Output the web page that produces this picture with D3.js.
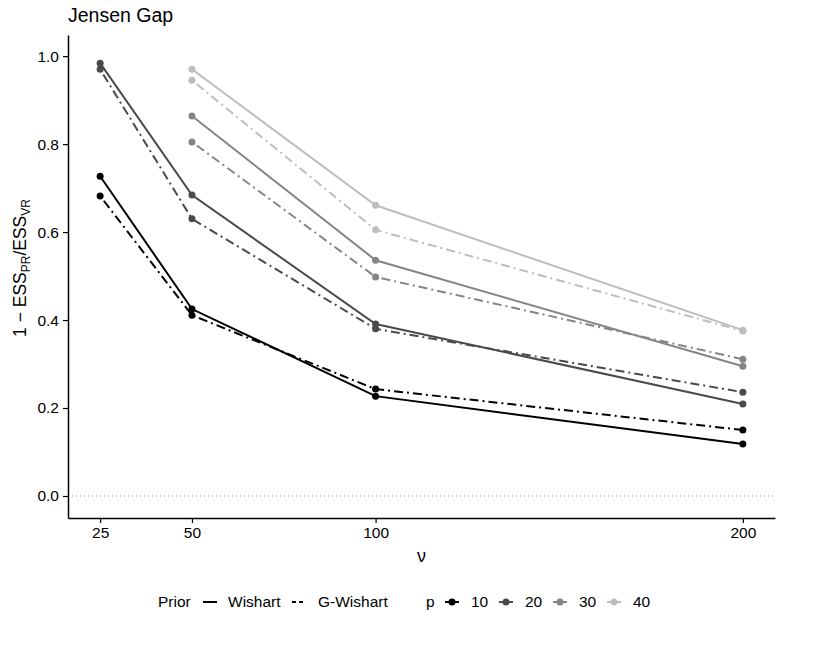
<!DOCTYPE html>
<html>
<head>
<meta charset="utf-8">
<script src="https://cdn.jsdelivr.net/npm/d3@7"></script>
<style>
  body { margin: 0; background: #fff; }
  svg text { font-family: "Liberation Sans", Arial, Helvetica, sans-serif; }
</style>
</head>
<body>
<svg id="chart"></svg>
<script>
// values
const nu = [25, 50, 100, 200]
const pLevels = [10, 20, 30, 40]
const priors = ['Wishart', 'G-Wishart']

const p10Wishart  = [0.727, 0.425, 0.227, 0.118]
const p10GWishart = [0.682, 0.411, 0.243, 0.150]
const p20Wishart  = [0.984, 0.684, 0.391, 0.209]
const p20GWishart = [0.970, 0.630, 0.380, 0.236]
const p30Wishart  = [null, 0.864, 0.536, 0.295]
const p30GWishart = [null, 0.805, 0.498, 0.311]
const p40Wishart  = [null, 0.970, 0.661, 0.377]
const p40GWishart = [null, 0.945, 0.605, 0.375]

const yTicks = [0, 0.2, 0.4, 0.6, 0.8, 1.0]
const xTicks = [25, 50, 100, 200]

let series = [
    { p: 10, prior: 'Wishart', values: p10Wishart },
    { p: 10, prior: 'G-Wishart', values: p10GWishart },
    { p: 20, prior: 'Wishart', values: p20Wishart },
    { p: 20, prior: 'G-Wishart', values: p20GWishart },
    { p: 30, prior: 'Wishart', values: p30Wishart },
    { p: 30, prior: 'G-Wishart', values: p30GWishart },
    { p: 40, prior: 'Wishart', values: p40Wishart },
    { p: 40, prior: 'G-Wishart', values: p40GWishart }
]

let svgWidth = 834
let svgHeight = 655
let margin = { top: 35, right: 59, bottom: 137, left: 68 }

let svg = d3.select('#chart')
    .attr('width', svgWidth)
    .attr('height', svgHeight)

let xScale = d3.scaleLinear()
    .domain([16.25, 208.75])
    .range([margin.left, svgWidth - margin.right])

let yScale = d3.scaleLinear()
    .domain([-0.05, 1.048])
    .range([svgHeight - margin.bottom, margin.top])

let colorScale = d3.scaleOrdinal()
    .domain(pLevels)
    .range(['#000000', '#4a4a4a', '#858585', '#bdbdbd'])

let dashScale = d3.scaleOrdinal()
    .domain(priors)
    .range(['none', '2,4,9,4'])

// dotted zero reference
svg.append('line')
    .attr('x1', xScale.range()[0])
    .attr('x2', xScale.range()[1])
    .attr('y1', yScale(0))
    .attr('y2', yScale(0))
    .attr('stroke', '#9a9a9a')
    .attr('stroke-width', 1)
    .attr('stroke-dasharray', '1,3')

// axes
let xAxis = svg.append('g')
    .attr('transform', 'translate(0,' + (svgHeight - margin.bottom) + ')')
    .call(d3.axisBottom(xScale).tickValues(xTicks).tickSize(5).tickPadding(4).tickSizeOuter(0))

let yAxis = svg.append('g')
    .attr('transform', 'translate(' + margin.left + ',0)')
    .call(d3.axisLeft(yScale).tickValues(yTicks).tickFormat(d3.format('.1f')).tickSize(5).tickPadding(4).tickSizeOuter(0))

;[xAxis, yAxis].forEach(ax => {
    ax.select('.domain').attr('stroke', '#000').attr('stroke-width', 1.5)
    ax.selectAll('.tick line').attr('stroke', '#000').attr('stroke-width', 1.2)
    ax.selectAll('.tick text')
        .attr('fill', '#000')
        .style('font-size', '15.5px')
})

// lines
let line = d3.line()
    .defined(d => d.y != null)
    .x(d => xScale(d.x))
    .y(d => yScale(d.y))

let groups = svg.selectAll('.series')
    .data(series)
    .enter()
    .append('g')
    .attr('class', 'series')

groups.append('path')
    .attr('d', d => line(nu.map((x, i) => ({ x: x, y: d.values[i] }))))
    .attr('fill', 'none')
    .attr('stroke', d => colorScale(d.p))
    .attr('stroke-width', 2)
    .attr('stroke-dasharray', d => dashScale(d.prior))

groups.selectAll('circle')
    .data(d => nu.map((x, i) => ({ x: x, y: d.values[i], p: d.p })).filter(e => e.y != null))
    .enter()
    .append('circle')
    .attr('cx', d => xScale(d.x))
    .attr('cy', d => yScale(d.y))
    .attr('r', 3.5)
    .attr('fill', d => colorScale(d.p))

// title and axis labels
svg.append('text')
    .attr('x', margin.left)
    .attr('y', 22)
    .style('font-size', '19.5px')
    .text('Jensen Gap')

svg.append('text')
    .attr('x', (xScale.range()[0] + xScale.range()[1]) / 2)
    .attr('y', 562)
    .attr('text-anchor', 'middle')
    .style('font-size', '18px')
    .text('ν')

let yLabel = svg.append('text')
    .attr('transform', 'translate(26,' + 268 + ') rotate(-90)')
    .attr('text-anchor', 'middle')
    .style('font-size', '17.5px')
yLabel.append('tspan').text('1 − ESS')
yLabel.append('tspan').attr('dy', 4).style('font-size', '12px').text('PR')
yLabel.append('tspan').attr('dy', -4).text('/ESS')
yLabel.append('tspan').attr('dy', 4).style('font-size', '12px').text('VR')

// legend
let legendY = 602
let legend = svg.append('g').style('font-size', '15.5px')

legend.append('text').attr('x', 158).attr('y', legendY + 5).text('Prior')

let priorKeys = [
    { prior: 'Wishart', keyX: 203, labelX: 228 },
    { prior: 'G-Wishart', keyX: 292, labelX: 318 }
]
priorKeys.forEach(k => {
    legend.append('line')
        .attr('x1', k.keyX).attr('x2', k.keyX + 14)
        .attr('y1', legendY).attr('y2', legendY)
        .attr('stroke', '#000')
        .attr('stroke-width', 2)
        .attr('stroke-dasharray', k.prior === 'Wishart' ? 'none' : '4,3')
    legend.append('text').attr('x', k.labelX).attr('y', legendY + 5).text(k.prior)
})

legend.append('text').attr('x', 426).attr('y', legendY + 5).text('p')

let pKeyX = [445, 499, 553, 607]
pLevels.forEach((p, i) => {
    legend.append('line')
        .attr('x1', pKeyX[i]).attr('x2', pKeyX[i] + 14)
        .attr('y1', legendY).attr('y2', legendY)
        .attr('stroke', colorScale(p))
        .attr('stroke-width', 2)
    legend.append('circle')
        .attr('cx', pKeyX[i] + 7).attr('cy', legendY)
        .attr('r', 3.5)
        .attr('fill', colorScale(p))
    legend.append('text').attr('x', pKeyX[i] + 26).attr('y', legendY + 5).text(p)
})
</script>
</body>
</html>
